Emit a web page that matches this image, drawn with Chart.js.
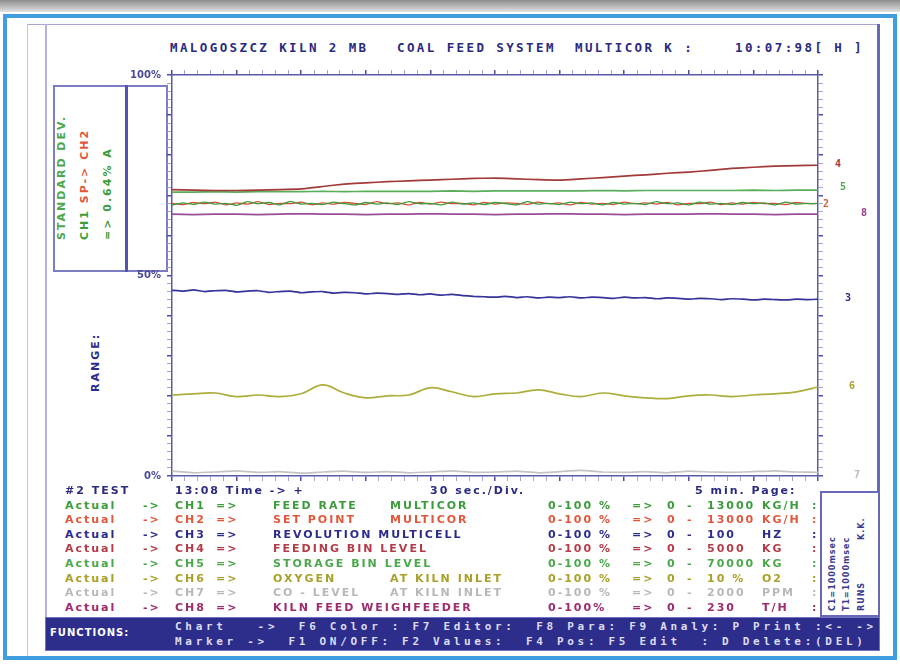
<!DOCTYPE html>
<html lang="en">
<head>
<meta charset="utf-8">
<title>Coal feed system</title>
<script src="https://cdn.jsdelivr.net/npm/chart.js@4.4.1/dist/chart.umd.min.js"></script>
<style>
  body { margin: 0; width: 900px; height: 664px; position: relative; overflow: hidden; background: #fff; font-family: "DejaVu Sans", sans-serif; font-weight: bold; }
  .abs { position: absolute; white-space: pre; }
  .rot { position: absolute; white-space: pre; transform-origin: 0 0; transform: rotate(-90deg); }
  #sombra { left: 0; top: 0; width: 900px; height: 12px; background: linear-gradient(#8c8c8c, #e2e2e2); }
  #moldura { left: 3px; top: 14px; width: 886px; height: 638px; border: 4px solid #3f9de0; }
  #linhaTopo { left: 27px; top: 24px; width: 853px; height: 1px; background: #a4a4cc; }
  #linhaEsq1 { left: 27px; top: 24px; width: 1px; height: 632px; background: #c6c6e0; }
  #linhaEsq2 { left: 45px; top: 24px; width: 2px; height: 594px; background: #b4b4d8; }
  #linhaDir { left: 877px; top: 24px; width: 3px; height: 468px; background: #6868b6; }
  #caixaEsq { left: 53px; top: 85px; width: 111px; height: 183px; border: 2px solid #7c7cc2; }
  #divisor { left: 125px; top: 85px; width: 3px; height: 187px; background: #5454aa; }
  #caixaDir { left: 820px; top: 491px; width: 56px; height: 122px; border: 2px solid #6868b6; }
  #barra { left: 45px; top: 617px; width: 833px; height: 32px; background: #2d2d8c; border: 1px solid #7272c2; }
  #graficoBox { position: absolute; left: 112px; top: 63px; width: 716px; height: 425px; }
  .titulo { top: 40px; font: bold 12.5px "DejaVu Sans Mono", monospace; letter-spacing: 2.4px; color: #2a2a80; }
  .leg { font-size: 11px; letter-spacing: 2px; }
  .func { font: bold 11px "DejaVu Sans Mono", monospace; letter-spacing: 3.7px; color: #dcdcf2; }
  .fim { font: bold 10px "DejaVu Sans Mono", monospace; }
  .pequeno { font-size: 8px; letter-spacing: 1px; color: #3a3a90; }
</style>
</head>
<body>
<div id="sombra" class="abs"></div>
<div id="moldura" class="abs"></div>
<div id="linhaTopo" class="abs"></div>
<div id="linhaEsq1" class="abs"></div>
<div id="linhaEsq2" class="abs"></div>
<div id="linhaDir" class="abs"></div>
<div id="caixaEsq" class="abs"></div>
<div id="divisor" class="abs"></div>
<div id="caixaDir" class="abs"></div>
<div id="barra" class="abs"></div>

<div class="abs titulo" style="left:170px">MALOGOSZCZ KILN 2 MB</div>
<div class="abs titulo" style="left:397px">COAL FEED SYSTEM</div>
<div class="abs titulo" style="left:575px">MULTICOR K :</div>
<div class="abs titulo" style="left:735px">10:07:98[ H ]</div>

<div class="rot leg" style="left:55px;top:240px;color:#4aa84a">STANDARD DEV.</div>
<div class="rot leg" style="left:78px;top:240px"><span style="color:#3c9c3c">CH1 </span><span style="color:#e0573c">SP-&gt; CH2</span></div>
<div class="rot leg" style="left:101px;top:240px;color:#3c9c3c">=&gt; 0.64% A</div>
<div class="rot leg" style="left:89px;top:392px;color:#2c2c8c">RANGE:</div>

<div class="rot pequeno" style="left:828px;top:611px">C1=1000msec</div>
<div class="rot pequeno" style="left:842px;top:611px">T1=1000msec</div>
<div class="rot pequeno" style="left:857px;top:611px">RUNS</div>
<div class="rot pequeno" style="left:857px;top:540px">K.K.</div>

<div id="graficoBox"><canvas id="grafico"></canvas></div>
<div id="legenda"></div>

<div class="abs leg" style="left:50px;top:627px;font-size:10px;letter-spacing:1px;color:#ffffff">FUNCTIONS:</div>
<div class="abs func" style="left:175px;top:620px">Chart   -&gt;  F6 Color : F7 Editor:  F8 Para: F9 Analy: P Print :&lt;- -&gt;</div>
<div class="abs func" style="left:175px;top:635px">Marker -&gt;  F1 ON/OFF: F2 Values:  F4 Pos: F5 Edit  : D Delete:(DEL)</div>

<script>
// tempos em segundos (30 sec./Div., 10 divisoes)
const tempos10 = [0, 10, 20, 30, 40, 50, 60, 70, 80, 90, 100, 110, 120, 130, 140, 150, 160, 170, 180, 190, 200, 210, 220, 230, 240, 250, 260, 270, 280, 290, 300];
const tempos5 = [0, 5, 10, 15, 20, 25, 30, 35, 40, 45, 50, 55, 60, 65, 70, 75, 80, 85, 90, 95, 100, 105, 110, 115, 120, 125, 130, 135, 140, 145, 150, 155, 160, 165, 170, 175, 180, 185, 190, 195, 200, 205, 210, 215, 220, 225, 230, 235, 240, 245, 250, 255, 260, 265, 270, 275, 280, 285, 290, 295, 300];

// valores em % (0-100)
const ch1 = [67.6, 68.1, 67.7, 68.3, 67.8, 68.0, 67.5, 68.4, 67.9, 68.2, 67.6, 68.5, 67.8, 68.0, 67.7, 68.3, 67.9, 67.6, 68.2, 67.8, 68.1, 67.7, 68.4, 67.9, 68.0, 67.6, 68.3, 67.8, 68.1, 67.7, 68.2, 67.9, 67.6, 68.4, 67.8, 68.0, 67.7, 68.3, 67.9, 68.1, 67.6, 68.2, 67.8, 68.0, 67.7, 68.4, 67.9, 68.1, 67.6, 68.3, 67.8, 68.0, 67.7, 68.2, 67.9, 68.1, 67.6, 68.3, 67.8, 68.0, 67.9];
const ch2 = [68.0, 67.7, 68.2, 67.9, 68.3, 67.6, 68.1, 67.8, 68.4, 67.7, 68.0, 67.9, 68.3, 67.6, 68.1, 67.8, 68.2, 68.0, 67.7, 68.4, 67.9, 68.1, 67.6, 68.2, 67.8, 68.3, 67.9, 68.0, 67.6, 68.2, 67.8, 68.1, 68.0, 67.7, 68.3, 67.9, 68.1, 67.6, 68.2, 67.8, 68.0, 67.7, 68.3, 67.9, 68.1, 67.8, 68.2, 67.6, 68.0, 67.9, 68.3, 67.7, 68.1, 67.8, 68.2, 67.9, 68.0, 67.7, 68.2, 67.9, 68.0];
const ch3 = [46.3, 46.1, 46.4, 46.0, 46.2, 46.3, 45.9, 46.1, 46.2, 45.8, 46.0, 46.1, 45.7, 45.9, 46.0, 45.6, 45.8, 45.7, 45.4, 45.6, 45.5, 45.3, 45.5, 45.2, 45.4, 45.1, 45.3, 45.0, 44.8, 44.7, 44.6, 44.8, 44.5, 44.7, 44.4, 44.6, 44.5, 44.7, 44.4, 44.6, 44.5, 44.3, 44.6, 44.4, 44.5, 44.2, 44.4, 44.3, 44.1, 44.3, 44.2, 44.0, 44.2, 44.1, 43.9, 44.1, 44.0, 43.9, 44.1, 44.0, 44.1];
const ch4 = [71.4, 71.3, 71.2, 71.2, 71.3, 71.4, 71.6, 72.2, 72.8, 73.1, 73.4, 73.6, 73.8, 74.0, 74.2, 74.3, 74.1, 73.9, 73.8, 74.1, 74.4, 74.8, 75.1, 75.5, 75.8, 76.2, 76.7, 77.0, 77.3, 77.4, 77.5];
const ch5 = [70.8, 70.8, 70.9, 70.8, 70.9, 70.9, 70.9, 71.0, 70.9, 71.0, 71.0, 71.0, 71.0, 71.1, 71.0, 71.1, 71.1, 71.1, 71.1, 71.1, 71.2, 71.1, 71.2, 71.2, 71.2, 71.2, 71.2, 71.3, 71.2, 71.3, 71.3];
const ch6 = [20.2, 20.5, 20.7, 19.8, 20.2, 19.8, 20.5, 22.7, 20.7, 19.5, 20.0, 20.2, 22.0, 21.0, 19.8, 20.5, 20.7, 21.5, 20.5, 19.8, 20.7, 20.0, 19.5, 19.3, 20.0, 20.2, 19.8, 20.2, 20.5, 21.0, 22.2];
const ch7 = [1.2, 0.8, 1.0, 1.3, 0.9, 1.1, 0.7, 1.0, 1.2, 0.9, 1.1, 0.8, 1.0, 1.3, 0.9, 1.0, 1.2, 0.8, 1.1, 1.4, 1.0, 0.9, 1.1, 0.8, 1.2, 1.0, 0.9, 1.1, 1.3, 1.0, 0.9];
const ch8 = [65.3, 65.2, 65.3, 65.3, 65.2, 65.3, 65.4, 65.3, 65.3, 65.2, 65.3, 65.3, 65.4, 65.3, 65.3, 65.2, 65.3, 65.3, 65.4, 65.3, 65.3, 65.2, 65.3, 65.3, 65.3, 65.4, 65.3, 65.3, 65.2, 65.3, 65.3];

// rotulos do eixo Y
const yValores = [0, 50, 100];
const yRotulos = ["0%", "50%", "100%"];

// legenda inferior
const canais = ["CH1", "CH2", "CH3", "CH4", "CH5", "CH6", "CH7", "CH8"];
const nomes = ["FEED RATE", "SET POINT", "REVOLUTION MULTICELL", "FEEDING BIN LEVEL", "STORAGE BIN LEVEL", "OXYGEN", "CO - LEVEL", "KILN FEED WEIGHFEEDER"];
const complementos = ["MULTICOR", "MULTICOR", "", "", "", "AT KILN INLET", "AT KILN INLET", ""];
const faixas = ["0-100 %", "0-100 %", "0-100 %", "0-100 %", "0-100 %", "0-100 %", "0-100 %", "0-100%"];
const maximos = ["13000", "13000", "100", "5000", "70000", "10 %", "2000", "230"];
const unidades = ["KG/H", "KG/H", "HZ", "KG", "KG", "O2", "PPM", "T/H"];
const coresTexto = ["#3c9c3c", "#e0573c", "#2c2c8c", "#b23c48", "#4aa84a", "#a8a028", "#b8b8b8", "#9c2c6c"];
const coresLinha = ["#3f9a3a", "#d0503c", "#34349a", "#a33a3a", "#5aae5a", "#adad3c", "#c4c4c4", "#9a4c9a"];

// numeros no fim das curvas
const fimRotulos = [
  { texto: "4", serie: 3, dx: 20, dy: 0, cor: "#a33a3a" },
  { texto: "5", serie: 4, dx: 25, dy: -2, cor: "#4aa84a" },
  { texto: "2", serie: 1, dx: 8, dy: 2, cor: "#d0603c" },
  { texto: "8", serie: 7, dx: 46, dy: 0, cor: "#9a3a7a" },
  { texto: "3", serie: 2, dx: 30, dy: 0, cor: "#2c2c8c" },
  { texto: "6", serie: 5, dx: 34, dy: 0, cor: "#a8a028" },
  { texto: "7", serie: 6, dx: 39, dy: 4, cor: "#b8b8b8" },
];

const navy = "#2a2a80";

function renderizarLegenda() {
  const legenda = document.getElementById("legenda");
  const linhaY = (i) => 484 + i * 14.6;
  let html = `
    <div class="abs leg" style="left:65px;top:${linhaY(0)}px;color:${navy}">#2 TEST</div>
    <div class="abs leg" style="left:175px;top:${linhaY(0)}px;color:${navy}">13:08 Time -&gt; +</div>
    <div class="abs leg" style="left:430px;top:${linhaY(0)}px;color:${navy}">30 sec./Div.</div>
    <div class="abs leg" style="left:695px;top:${linhaY(0)}px;color:${navy}">5 min. Page:</div>`;
  canais.forEach((canal, i) => {
    const top = linhaY(i + 1);
    const cor = coresTexto[i];
    const col = (x, t) => `<div class="abs leg" style="left:${x}px;top:${top}px;color:${cor}">${t}</div>`;
    html += col(65, "Actual") + col(143, "-&gt;") + col(175, canal) + col(216, "=&gt;") +
      col(273, nomes[i]) + col(390, complementos[i]) + col(548, faixas[i]) +
      col(632, "=&gt;") + col(667, "0") + col(687, "-") + col(707, maximos[i]) +
      col(762, unidades[i]) + col(812, ":");
  });
  fimRotulos.forEach((r) => {
    html += `<div id="fim${r.texto}" class="abs fim" style="color:${r.cor}">${r.texto}</div>`;
  });
  legenda.innerHTML = html;
}

renderizarLegenda();

const pontos = (tempos, valores) => valores.map((v, i) => ({ x: tempos[i], y: v }));
const series = [
  pontos(tempos5, ch1), pontos(tempos5, ch2), pontos(tempos5, ch3), pontos(tempos10, ch4),
  pontos(tempos10, ch5), pontos(tempos10, ch6), pontos(tempos10, ch7), pontos(tempos10, ch8),
];

const corTick = (ctx, passo) => (ctx.tick && ctx.tick.value % passo === 0 ? "#4c4ca4" : "#a4a4d4");
const largTick = (ctx, passo) => (ctx.tick && ctx.tick.value % passo === 0 ? 1.5 : 1);

function eixoX(posicao) {
  return {
    type: "linear", position: posicao, min: 0, max: 300,
    ticks: { stepSize: 6, display: false, autoSkip: false, maxTicksLimit: 100 },
    grid: { drawOnChartArea: false, tickLength: 5, color: (c) => corTick(c, 30), lineWidth: (c) => largTick(c, 30) },
    border: { color: "#5a5aaa", width: 1.5 },
    afterFit: (s) => { s.height = 10; },
  };
}

function eixoY(posicao) {
  return {
    type: "linear", position: posicao, min: 0, max: 100,
    ticks: {
      stepSize: 2, autoSkip: false, maxTicksLimit: 100, padding: 6,
      display: posicao === "left",
      color: "#4a4a9a", font: { family: "DejaVu Sans", size: 10, weight: "bold" },
      callback: (v) => (yValores.includes(v) ? yRotulos[yValores.indexOf(v)] : ""),
    },
    grid: { drawOnChartArea: false, tickLength: 5, color: (c) => corTick(c, 10), lineWidth: (c) => largTick(c, 10) },
    border: { color: "#5a5aaa", width: 1.5 },
    afterFit: (s) => { s.width = posicao === "left" ? 60 : 10; },
  };
}

const rotulosPlugin = {
  id: "rotulosFim",
  afterDraw(chart) {
    const box = document.getElementById("graficoBox");
    const x = chart.scales.x;
    const y = chart.scales.y;
    fimRotulos.forEach((r) => {
      const dados = chart.data.datasets[r.serie].data;
      const ultimo = dados[dados.length - 1];
      const el = document.getElementById("fim" + r.texto);
      el.style.left = box.offsetLeft + x.getPixelForValue(ultimo.x) + r.dx - 3 + "px";
      el.style.top = box.offsetTop + y.getPixelForValue(ultimo.y) + r.dy - 7 + "px";
    });
  },
};

const ctx = document.getElementById("grafico").getContext("2d");
new Chart(ctx, {
  type: "line",
  data: {
    datasets: series.map((dados, i) => ({
      label: canais[i],
      data: dados,
      borderColor: coresLinha[i],
      borderWidth: i < 2 ? 1.3 : 1.7,
      pointRadius: 0,
      tension: i === 5 ? 0.4 : 0.1,
      fill: false,
    })),
  },
  options: {
    responsive: true,
    maintainAspectRatio: false,
    animation: false,
    layout: { padding: 0 },
    plugins: { legend: { display: false }, tooltip: { enabled: false } },
    scales: {
      x: eixoX("bottom"),
      xTopo: eixoX("top"),
      y: eixoY("left"),
      yDir: eixoY("right"),
    },
  },
  plugins: [rotulosPlugin],
});
</script>
</body>
</html>
